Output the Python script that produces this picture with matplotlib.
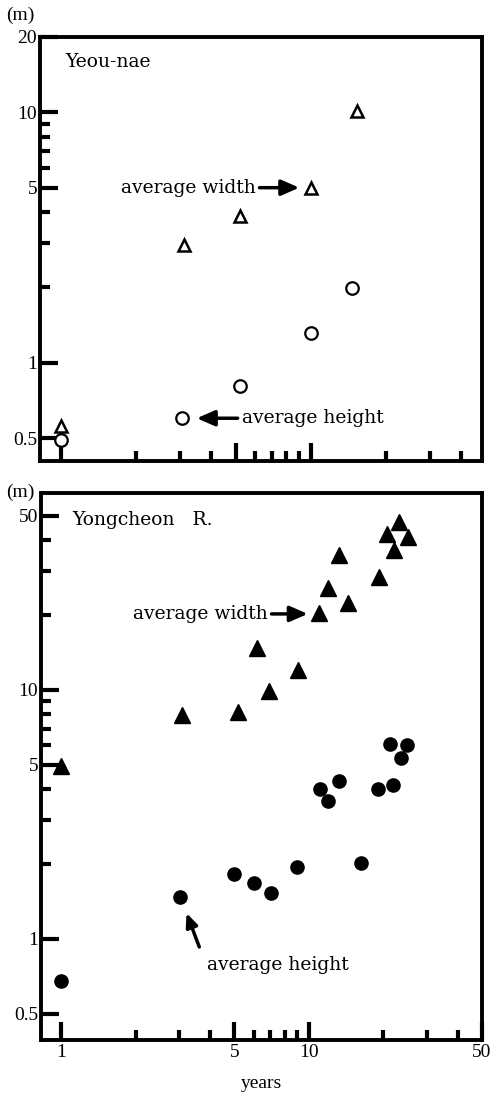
import matplotlib
matplotlib.use("Agg")
import matplotlib.pyplot as plt
from matplotlib.ticker import FixedLocator, NullFormatter, FixedFormatter

plt.rcParams['font.family'] = ['Liberation Serif', 'DejaVu Serif']

# ---- Data: Yeou-nae (top panel) ----
yeou_width_years = [1.0, 3.1, 5.2, 10.0, 15.3]
yeou_width = [0.56, 2.96, 3.84, 5.0, 10.1]
yeou_height_years = [1.0, 3.05, 5.2, 10.0, 14.6]
yeou_height = [0.49, 0.60, 0.81, 1.31, 1.98]

# ---- Data: Yongcheon R. (bottom panel) ----
yong_width_years = [1.0, 3.08, 5.17, 6.15, 6.92, 9.05, 11.0, 12.0, 13.2, 14.4,
                    19.2, 20.6, 22.1, 23.1, 25.2]
yong_width = [4.95, 7.94, 8.18, 14.7, 9.94, 12.0, 20.3, 25.6, 34.8, 22.3,
              28.5, 42.3, 36.5, 47.4, 41.3]
yong_height_years = [1.0, 3.02, 5.0, 6.0, 7.03, 9.0, 11.1, 12.0, 13.2, 16.2,
                     19.0, 21.9, 21.3, 23.6, 25.0]
yong_height = [0.68, 1.47, 1.82, 1.68, 1.53, 1.94, 3.99, 3.59, 4.32, 2.01,
               4.0, 4.15, 6.05, 5.32, 6.01]

x_major = [1, 5, 10, 50]
x_major_labels = ['1', '5', '10', '50']
x_minor = [2, 3, 4, 6, 7, 8, 9, 20, 30, 40]

top_y_major = [0.5, 1, 5, 10, 20]
top_y_labels = ['0.5', '1', '5', '10', '20']
top_y_minor = [2, 3, 4, 6, 7, 8, 9]

bot_y_major = [0.5, 1, 5, 10, 50]
bot_y_labels = ['0.5', '1', '5', '10', '50']
bot_y_minor = [2, 3, 4, 6, 7, 8, 9, 20, 30, 40]

FS = 14          # tick labels
TFS = 13.5       # annotation text
TFAM = ['DejaVu Serif']

fig = plt.figure(figsize=(4.91, 10.96), dpi=100)
ax1 = fig.add_axes([0.0815, 0.5794, 0.9002, 0.3869])
ax2 = fig.add_axes([0.0835, 0.0511, 0.8982, 0.4991])


def style(ax, ymaj, ylab, ymin, xlim, ylim, xlabels):
    ax.set_xscale('log')
    ax.set_yscale('log')
    ax.set_xlim(*xlim)
    ax.set_ylim(*ylim)
    for s in ax.spines.values():
        s.set_linewidth(2.8)
    ax.xaxis.set_major_locator(FixedLocator(x_major))
    ax.xaxis.set_minor_locator(FixedLocator(x_minor))
    if xlabels:
        ax.xaxis.set_major_formatter(FixedFormatter(x_major_labels))
    else:
        ax.xaxis.set_major_formatter(NullFormatter())
    ax.xaxis.set_minor_formatter(NullFormatter())
    ax.yaxis.set_major_locator(FixedLocator(ymaj))
    ax.yaxis.set_major_formatter(FixedFormatter(ylab))
    ax.yaxis.set_minor_locator(FixedLocator(ymin))
    ax.yaxis.set_minor_formatter(NullFormatter())
    ax.tick_params(axis='both', which='major', direction='in', width=3,
                   length=13, labelsize=FS, pad=2)
    ax.tick_params(axis='both', which='minor', direction='in', width=3,
                   length=7.5)
    ax.tick_params(axis='x', which='major', pad=3)
    ax.tick_params(top=False, right=False, which='both')


style(ax1, top_y_major, top_y_labels, top_y_minor, (0.825, 48.5), (0.405, 20), False)
style(ax2, bot_y_major, bot_y_labels, bot_y_minor, (0.83, 50), (0.393, 61.8), True)

# Top panel markers (open)
ax1.plot(yeou_width_years, yeou_width, linestyle='none', marker='^', ms=9,
         mfc='white', mec='black', mew=1.8)
ax1.plot(yeou_height_years, yeou_height, linestyle='none', marker='o', ms=9,
         mfc='white', mec='black', mew=1.6)

# Bottom panel markers (filled)
ax2.plot(yong_width_years, yong_width, linestyle='none', marker='^', ms=11,
         mfc='black', mec='black')
ax2.plot(yong_height_years, yong_height, linestyle='none', marker='o', ms=9.5,
         mfc='black', mec='black')

arrow = dict(arrowstyle='-|>,head_width=0.35,head_length=0.8', color='black',
             lw=2.5, shrinkA=1, shrinkB=0)

# Top annotations
ax1.text(0.057, 0.94, 'Yeou-nae', transform=ax1.transAxes, fontsize=TFS,
         family=TFAM, ha='left', va='center')
ax1.annotate('average width', xy=(9.0, 5.0), xytext=(6.0, 5.0), fontsize=TFS,
             family=TFAM, ha='right', va='center', arrowprops=arrow)
ax1.annotate('average height', xy=(3.5, 0.60), xytext=(5.3, 0.60), fontsize=TFS,
             family=TFAM, ha='left', va='center', arrowprops=arrow)
ax1.text(-0.045, 1.052, '(m)', transform=ax1.transAxes, fontsize=FS,
         ha='center', va='center')

# Bottom annotations
ax2.text(0.07, 0.951, 'Yongcheon   R.', transform=ax2.transAxes, fontsize=TFS,
         family=TFAM, ha='left', va='center')
ax2.annotate('average width', xy=(9.9, 20.2), xytext=(6.8, 20.2), fontsize=TFS,
             family=TFAM, ha='right', va='center', arrowprops=arrow)
ax2.annotate('', xy=(3.21, 1.27), xytext=(3.63, 0.918), arrowprops=arrow)
ax2.text(7.5, 0.787, 'average height', fontsize=TFS, family=TFAM,
         ha='center', va='center')
ax2.text(-0.048, 1.002, '(m)', transform=ax2.transAxes, fontsize=FS,
         ha='center', va='center')

ax2.set_xlabel('years', fontsize=FS, labelpad=10)

fig.savefig('out.png', dpi=100)
